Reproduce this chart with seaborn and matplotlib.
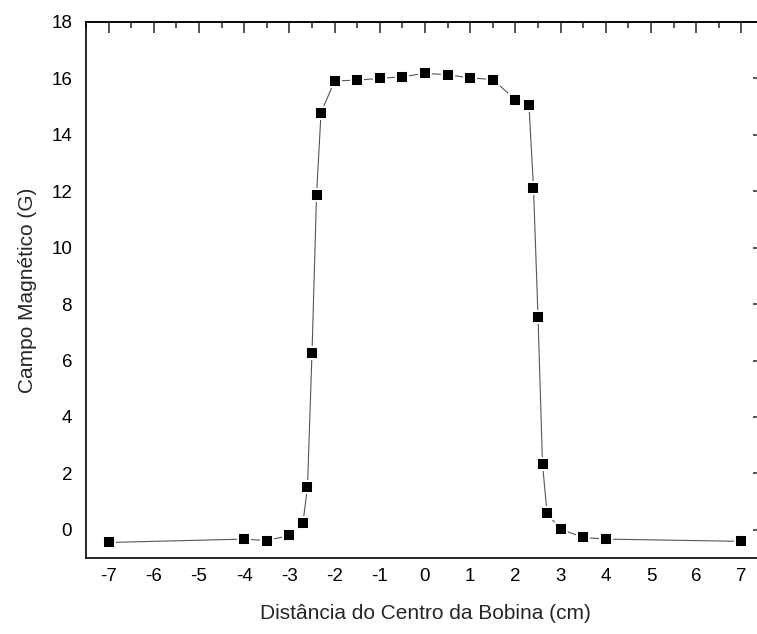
import numpy as np
import pandas as pd
import matplotlib
matplotlib.use("Agg")
import matplotlib.pyplot as plt
import seaborn as sns
from matplotlib.ticker import MultipleLocator

# Axial magnetic field measured along the coil
distance_cm = [-7.0, -4.0, -3.5, -3.0, -2.7, -2.6, -2.5, -2.4, -2.3, -2.0,
               -1.5, -1.0, -0.5, 0.0, 0.5, 1.0, 1.5, 2.0, 2.3, 2.4,
               2.5, 2.6, 2.7, 3.0, 3.5, 4.0, 7.0]
field_gauss = [-0.45, -0.33, -0.38, -0.20, 0.25, 1.52, 6.27, 11.86, 14.79, 15.91,
               15.94, 16.00, 16.06, 16.18, 16.13, 16.02, 15.96, 15.25, 15.05, 12.13,
               7.56, 2.33, 0.58, 0.02, -0.27, -0.33, -0.41]

x_ticks = list(range(-7, 8))
y_ticks = list(range(0, 19, 2))

df = pd.DataFrame({"x": distance_cm, "y": field_gauss})

sns.set_style("white")
plt.rcParams["font.family"] = ["Liberation Sans", "DejaVu Sans"]

fig = plt.figure(figsize=(7.57, 6.34), dpi=100)
ax = fig.add_axes([86 / 757, 1 - 558 / 634, (764 - 86) / 757, (558 - 22) / 634])

sns.lineplot(data=df, x="x", y="y", ax=ax, sort=False, estimator=None,
             color="#555555", linewidth=0.8, marker="s", markersize=8.5,
             markerfacecolor="black", markeredgecolor="white",
             markeredgewidth=1.4, zorder=3)

ax.set_xlim(-7.5, 7.5)
ax.set_ylim(-1, 18)
ax.set_xticks(x_ticks)
ax.set_xticklabels([str(t) for t in x_ticks])
ax.set_yticks(y_ticks)
ax.set_yticklabels([str(t) for t in y_ticks])
ax.xaxis.set_minor_locator(MultipleLocator(0.5))
ax.yaxis.set_minor_locator(MultipleLocator(1))

for s in ax.spines.values():
    s.set_visible(True)
    s.set_linewidth(1.2)
    s.set_color("black")

ax.tick_params(axis="both", which="major", direction="in", length=8, width=1.1,
               labelsize=13.5, colors="black", top=False, right=False)
ax.tick_params(axis="x", which="minor", direction="inout", length=8.5, width=1.1,
               top=False)
ax.tick_params(axis="y", which="minor", direction="in", length=6.5, width=1.1,
               right=False)
ax.tick_params(axis="x", which="major", pad=7)
ax.tick_params(axis="y", which="major", pad=10)

# Mirrored tick marks on top and right edges
top = ax.secondary_xaxis("top")
top.set_xticks(x_ticks)
top.xaxis.set_minor_locator(MultipleLocator(0.5))
top.tick_params(which="major", direction="in", length=8, width=1.1, labeltop=False)
top.tick_params(which="minor", direction="in", length=4, width=1.1)
top.spines["top"].set_linewidth(1.2)

right = ax.secondary_yaxis("right")
right.set_yticks(y_ticks)
right.yaxis.set_minor_locator(MultipleLocator(1))
right.tick_params(which="major", direction="in", length=8, width=1.1, labelright=False)
right.tick_params(which="minor", direction="in", length=4, width=1.1)

ax.set_xlabel("Distância do Centro da Bobina (cm)", fontsize=15, labelpad=14)
ax.set_ylabel("Campo Magnético (G)", fontsize=15, labelpad=10)

fig.savefig("out.png", dpi=100)
